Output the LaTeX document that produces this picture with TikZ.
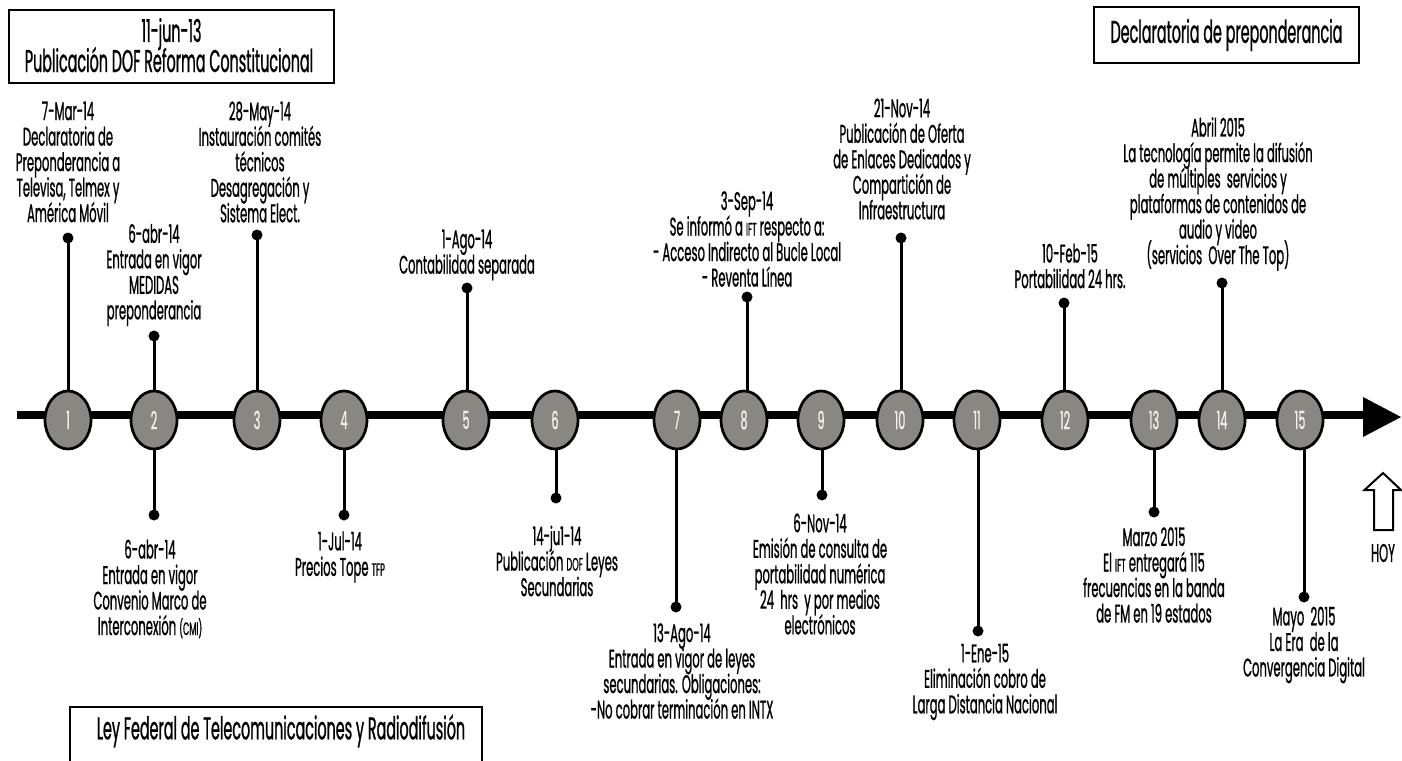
\documentclass[tikz,border=0pt]{standalone}
\usepackage{fontspec}
\setmainfont{Poppins}[FakeStretch=0.455, FakeBold=0.8]
\usetikzlibrary{shapes.geometric}
\definecolor{evgray}{HTML}{8A8682}
\definecolor{evtext}{HTML}{EEEEEE}
\pgfdeclarelayer{bg}
\pgfsetlayers{bg,main}
\newcommand\acr[1]{{\fontsize{18}{18}\selectfont #1}}
\newcommand\tightlines{\lineskiplimit=-100pt\lineskip=0pt}
\begin{document}
\begin{tikzpicture}[x=1pt,y=-1pt,
  lbl/.style={align=center, inner sep=0pt, font=\fontsize{25.5}{25.5}\selectfont\tightlines},
  ev/.style={ellipse, draw=black, line width=2.7pt, fill=evgray, minimum width=46pt, minimum height=58pt, inner sep=0pt, text=evtext, font=\fontsize{25}{25}\selectfont},
  knob/.style={circle, fill=black, minimum size=11pt, inner sep=0pt},
  stem/.style={line width=3pt},
  bx/.style={draw, line width=1.5pt, inner sep=0pt},
  bxt/.style={align=center, inner sep=0pt, font=\fontsize{31.5}{30}\selectfont\tightlines}
]
\useasboundingbox (0,0) rectangle (1402,760);

% events on the time line
\foreach \i/\x in {1/68,2/154,3/257,4/344,5/466,6/555,7/677,8/744,9/821,10/900,11/977,12/1065,13/1154,14/1222,15/1300}
  \node[ev] (e\i) at (\x,420) {\i};

% main line and arrow head
\coordinate (ls) at (17,415);
\coordinate (le) at (1366,415);
\begin{pgfonlayer}{bg}
\draw[line width=8pt] (ls) -- (le);
\end{pgfonlayer}
\fill (1363,397) -- (1401,417) -- (1363,437) -- cycle;

% dots above
\foreach \n/\x/\y in {u1/68/238,u2/154/336,u3/257/235,u5/467/288,u8/747/297,u10/901/238,u12/1064/303,u14/1222/283}
  \node[knob] (\n) at (\x,\y) {};
% dots below
\foreach \n/\x/\y in {d2/154/515,d4/344/515,d6/556/498,d7/676/607,d9/822/495,d11/978/631,d13/1154/512,d15/1304/597}
  \node[knob] (\n) at (\x,\y) {};

\begin{pgfonlayer}{bg}
\foreach \n/\e in {u1/e1,u2/e2,u3/e3,u5/e5,u8/e8,u10/e10,u12/e12,u14/e14,d2/e2,d4/e4,d6/e6,d7/e7,d9/e9,d11/e11,d13/e13,d15/e15}
  \draw[stem] (\n.center) -- (\n.center |- \e.center);
\end{pgfonlayer}

% labels above
\node[lbl] (t1) at (68,162) {7-Mar-14\\Declaratoria de\\Preponderancia a\\Televisa, Telmex y\\América Móvil};
\node[lbl] (t2) at (154,275) {6-abr-14\\Entrada en vigor\\MEDIDAS\\preponderancia};
\node[lbl] (t3) at (260,162) {28-May-14\\Instauración comités\\técnicos\\Desagregación y\\Sistema Elect.};
\node[lbl] (t5) at (467,255) {1-Ago-14\\Contabilidad separada};
\node[lbl] (t8) at (747,239) {3-Sep-14\\Se informó a \acr{IFT} respecto a:\\- Acceso Indirecto al Bucle Local\\- Reventa Línea};
\node[lbl] (t10) at (902,159) {21-Nov-14\\Publicación de Oferta\\de Enlaces Dedicados y\\Compartición de\\Infraestructura};
\node[lbl] (t12) at (1070,266) {10-Feb-15\\Portabilidad 24 hrs.};
\node[lbl] (t14) at (1218,194) {Abril 2015\\La tecnología permite la difusión\\de múltiples\ \ servicios y\\plataformas de contenidos de\\audio y video\\(servicios\ \ Over The Top)};

% labels below
\node[lbl] (s2) at (150,589) {6-abr-14\\Entrada en vigor\\Convenio Marco de\\Interconexión \acr{(CMI)}};
\node[lbl] (s4) at (340,557) {1-Jul-14\\Precios Tope \acr{TFP}};
\node[lbl] (s6) at (557,561) {14-ju1-14\\Publicación \acr{DOF} Leyes\\Secundarias};
\node[lbl] (s7) at (682,671) {13-Ago-14\\Entrada en vigor de leyes\\secundarias. Obligaciones:\\-No cobrar terminación en INTX};
\node[lbl] (s9) at (820,574) {6-Nov-14\\Emisión de consulta de\\portabilidad numérica\\24\ \ hrs\ \ y por medios\\electrónicos};
\node[lbl] (s11) at (985,682) {1-Ene-15\\Eliminación cobro de\\Larga Distancia Nacional};
\node[lbl] (s13) at (1154,575) {Marzo 2015\\El \acr{IFT} entregará 115\\frecuencias en la banda\\de FM en 19 estados};
\node[lbl] (s15) at (1304,645) {Mayo\ \ 2015\\La Era\ \ de la\\Convergencia Digital};

% boxes
\node[bx, minimum width=325pt, minimum height=73pt] (b1) at (171.5,46.5) {};
\node[bxt, anchor=base] (b1a) at (171.5,42) {11-jun-13};
\node[bxt, anchor=base] (b1b) at (169,72) {Publicación DOF Reforma Constitucional};
\node[bx, minimum width=265pt, minimum height=56pt] (b2) at (1226.5,35) {};
\node[bxt] (b2t) at (1226.5,35) {Declaratoria de preponderancia};
\node[bx, minimum width=412pt, minimum height=100pt, anchor=north] (b3) at (276,706) {};
\node[bxt] (b3t) at (281,731) {Ley Federal de Telecomunicaciones y Radiodifusión};

% HOY arrow
\draw[line width=2pt, line join=miter] (1374,530) -- (1374,490) -- (1364.5,490) -- (1383,473) -- (1401,490) -- (1393,490) -- (1393,530) -- cycle;
\node[lbl] (hoy) at (1383,553) {HOY};
\end{tikzpicture}
\end{document}
